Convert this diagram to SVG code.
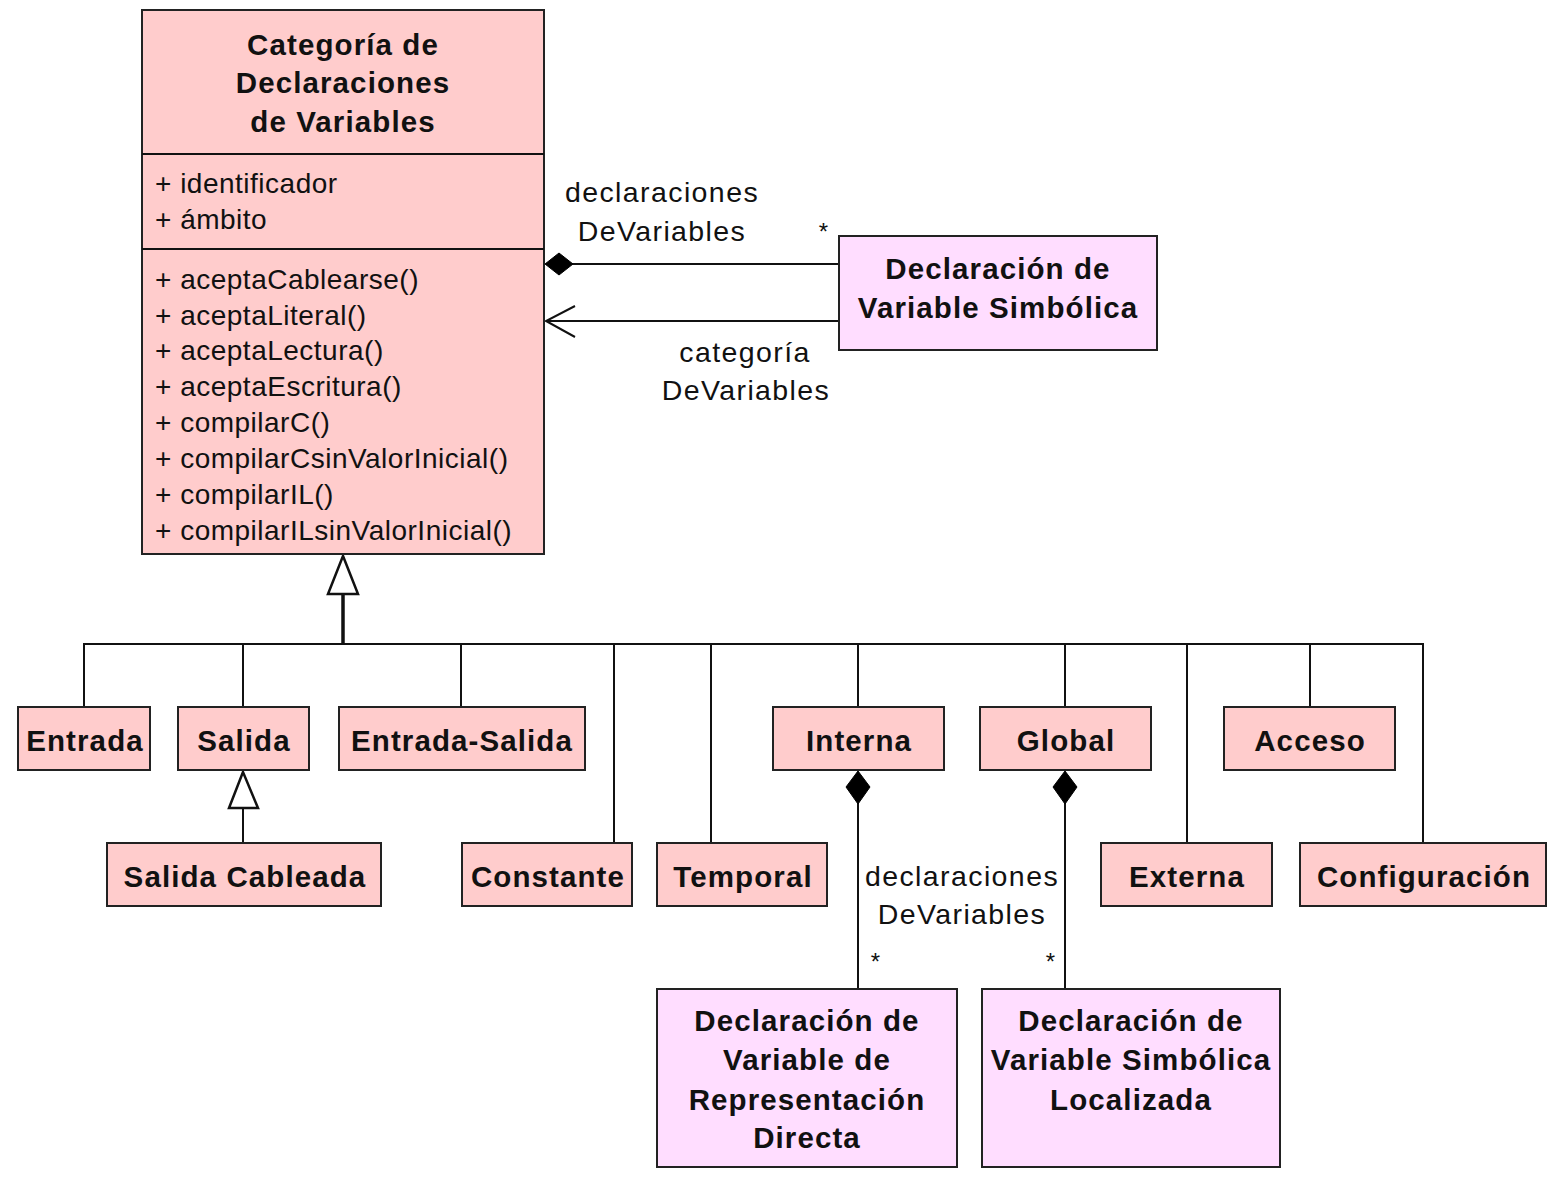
<svg xmlns="http://www.w3.org/2000/svg" width="1557" height="1183" viewBox="0 0 1557 1183">
<style>
.cls{fill:#FFCCCC;stroke:#222;stroke-width:2}
.sym{fill:#FFDDFF;stroke:#222;stroke-width:2}
.b{font-family:"Liberation Sans",Arial,sans-serif;font-weight:bold;font-size:29.5px;letter-spacing:1.1px;fill:#111;text-anchor:middle}
.r{font-family:"Liberation Sans",Arial,sans-serif;font-size:28px;letter-spacing:0.5px;fill:#111}
.lbl{font-family:"Liberation Sans",Arial,sans-serif;font-size:28.5px;letter-spacing:1.4px;fill:#111;text-anchor:middle}
.ln{fill:none;stroke:#111;stroke-width:2}
.gen{fill:#fff;stroke:#111;stroke-width:2.5}
.dia{fill:#000;stroke:#000;stroke-width:1}
</style>
<rect width="1557" height="1183" fill="#fff"/>

<g id="connectors">
  <polyline class="ln" points="84,707 84,644 343,644"/>
  <polyline class="ln" points="243,707 243,644 343,644"/>
  <polyline class="ln" points="461,707 461,644 343,644"/>
  <polyline class="ln" points="614,843 614,644 343,644"/>
  <polyline class="ln" points="711,843 711,644 343,644"/>
  <polyline class="ln" points="858,707 858,644 343,644"/>
  <polyline class="ln" points="1065,707 1065,644 343,644"/>
  <polyline class="ln" points="1187,843 1187,644 343,644"/>
  <polyline class="ln" points="1310,707 1310,644 343,644"/>
  <polyline class="ln" points="1423,843 1423,644 343,644"/>
  <line x1="343" y1="645" x2="343" y2="594" stroke="#111" stroke-width="3.5"/>
  <polygon class="gen" points="343,556 328,594 358,594"/>
  <line class="ln" x1="243" y1="843" x2="243" y2="808"/>
  <polygon class="gen" points="243,772 229,808 258,808"/>
  <line class="ln" x1="572" y1="264" x2="839" y2="264"/>
  <polygon class="dia" points="545,264 559,253 573,264 559,275"/>
  <line class="ln" x1="546" y1="321" x2="839" y2="321"/>
  <polyline class="ln" points="575,306 546,321 575,337"/>
  <line class="ln" x1="858" y1="803" x2="858" y2="989"/>
  <polygon class="dia" points="858,771 870,787 858,804 846,787"/>
  <line class="ln" x1="1065" y1="803" x2="1065" y2="989"/>
  <polygon class="dia" points="1065,771 1077,787 1065,804 1053,787"/>
  <text class="lbl" x="662" y="202">declaraciones</text>
  <text class="lbl" x="662" y="241">DeVariables</text>
  <text class="lbl" x="824" y="240" style="font-size:24px">*</text>
  <text class="lbl" x="745" y="362">categoría</text>
  <text class="lbl" x="746" y="400">DeVariables</text>
  <text class="lbl" x="962" y="886">declaraciones</text>
  <text class="lbl" x="962" y="924">DeVariables</text>
  <text class="lbl" x="876" y="970" style="font-size:24px">*</text>
  <text class="lbl" x="1051" y="970" style="font-size:24px">*</text>
</g>

<g id="categoria">
  <rect class="cls" x="142" y="10" width="402" height="544"/>
  <line class="ln" x1="142" y1="154" x2="544" y2="154"/>
  <line class="ln" x1="142" y1="249" x2="544" y2="249"/>
  <text class="b" x="343" y="55">Categoría de</text>
  <text class="b" x="343" y="93">Declaraciones</text>
  <text class="b" x="343" y="132">de Variables</text>
  <text class="r" x="155" y="193">+ identificador</text>
  <text class="r" x="155" y="229">+ ámbito</text>
  <text class="r" x="155" y="289">+ aceptaCablearse()</text>
  <text class="r" x="155" y="325">+ aceptaLiteral()</text>
  <text class="r" x="155" y="360">+ aceptaLectura()</text>
  <text class="r" x="155" y="396">+ aceptaEscritura()</text>
  <text class="r" x="155" y="432">+ compilarC()</text>
  <text class="r" x="155" y="468">+ compilarCsinValorInicial()</text>
  <text class="r" x="155" y="504">+ compilarIL()</text>
  <text class="r" x="155" y="540">+ compilarILsinValorInicial()</text>
</g>

<g id="simbolica">
  <rect class="sym" x="839" y="236" width="318" height="114"/>
  <text class="b" x="998" y="279">Declaración de</text>
  <text class="b" x="998" y="318">Variable Simbólica</text>
</g>

<g id="entrada"><rect class="cls" x="18" y="707" width="132" height="63"/><text class="b" x="85" y="751">Entrada</text></g>
<g id="salida"><rect class="cls" x="178" y="707" width="131" height="63"/><text class="b" x="244" y="751">Salida</text></g>
<g id="entrada-salida"><rect class="cls" x="339" y="707" width="246" height="63"/><text class="b" x="462" y="751">Entrada-Salida</text></g>
<g id="interna"><rect class="cls" x="773" y="707" width="171" height="63"/><text class="b" x="859" y="751">Interna</text></g>
<g id="global"><rect class="cls" x="980" y="707" width="171" height="63"/><text class="b" x="1066" y="751">Global</text></g>
<g id="acceso"><rect class="cls" x="1224" y="707" width="171" height="63"/><text class="b" x="1310" y="751">Acceso</text></g>

<g id="salida-cableada"><rect class="cls" x="107" y="843" width="274" height="63"/><text class="b" x="245" y="887">Salida Cableada</text></g>
<g id="constante"><rect class="cls" x="462" y="843" width="170" height="63"/><text class="b" x="548" y="887">Constante</text></g>
<g id="temporal"><rect class="cls" x="657" y="843" width="170" height="63"/><text class="b" x="743" y="887">Temporal</text></g>
<g id="externa"><rect class="cls" x="1101" y="843" width="171" height="63"/><text class="b" x="1187" y="887">Externa</text></g>
<g id="configuracion"><rect class="cls" x="1300" y="843" width="246" height="63"/><text class="b" x="1424" y="887">Configuración</text></g>

<g id="representacion-directa">
  <rect class="sym" x="657" y="989" width="300" height="178"/>
  <text class="b" x="807" y="1031">Declaración de</text>
  <text class="b" x="807" y="1070">Variable de</text>
  <text class="b" x="807" y="1110">Representación</text>
  <text class="b" x="807" y="1148">Directa</text>
</g>

<g id="simbolica-localizada">
  <rect class="sym" x="982" y="989" width="298" height="178"/>
  <text class="b" x="1131" y="1031">Declaración de</text>
  <text class="b" x="1131" y="1070">Variable Simbólica</text>
  <text class="b" x="1131" y="1110">Localizada</text>
</g>
</svg>
